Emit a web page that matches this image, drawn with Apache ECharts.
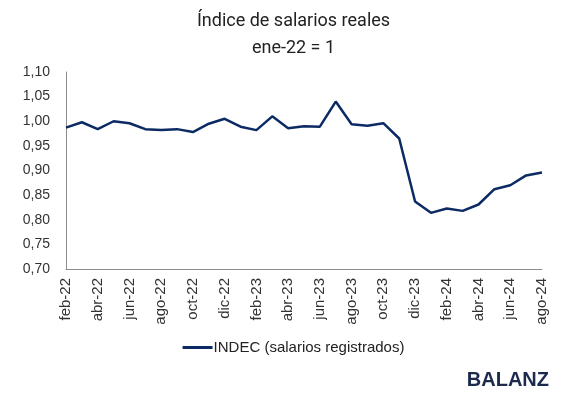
<!DOCTYPE html>
<html>
<head>
<meta charset="utf-8">
<script src="https://cdn.jsdelivr.net/npm/echarts@6/dist/echarts.min.js"></script>
<style>
  html, body { margin: 0; padding: 0; background: #fff; }
  #chart { width: 587px; height: 402px; }
</style>
</head>
<body>
<div id="chart"></div>
<script>
// meses feb-22 .. ago-24
const months = [
  'feb-22', 'mar-22', 'abr-22', 'may-22', 'jun-22', 'jul-22', 'ago-22', 'sep-22', 'oct-22', 'nov-22', 'dic-22',
  'ene-23', 'feb-23', 'mar-23', 'abr-23', 'may-23', 'jun-23', 'jul-23', 'ago-23', 'sep-23', 'oct-23', 'nov-23', 'dic-23',
  'ene-24', 'feb-24', 'mar-24', 'abr-24', 'may-24', 'jun-24', 'jul-24', 'ago-24'
];

// INDEC (salarios registrados), ene-22 = 1
const indec = [
  0.987, 0.998, 0.984, 1.000, 0.996, 0.984, 0.982, 0.984, 0.978, 0.995, 1.005,
  0.989, 0.982, 1.010, 0.986, 0.990, 0.989, 1.040, 0.994, 0.991, 0.996, 0.965, 0.837,
  0.814, 0.823, 0.818, 0.831, 0.862, 0.870, 0.890, 0.896
];

const yTicks = { min: 0.70, max: 1.10, step: 0.05 };

const chart = echarts.init(document.getElementById('chart'));
chart.setOption({
  animation: false,
  textStyle: { fontFamily: 'Liberation Sans' },
  title: {
    text: 'Índice de salarios reales\nene-22 = 1',
    left: 'center',
    top: 3,
    textStyle: {
      fontFamily: 'Roboto',
      fontSize: 18,
      fontWeight: 'normal',
      color: '#222',
      lineHeight: 27
    }
  },
  grid: { left: 66, right: 45, top: 72, bottom: 133 },
  legend: {
    bottom: 42,
    left: 'center',
    itemWidth: 30,
    itemHeight: 3,
    itemGap: 0,
    icon: 'rect',
    textStyle: { fontSize: 15, color: '#222', padding: [0, 0, 0, -4] },
    data: ['INDEC (salarios registrados)']
  },
  xAxis: {
    type: 'category',
    data: months,
    boundaryGap: false,
    axisLine: { lineStyle: { color: '#8c8c8c', width: 1 } },
    axisTick: { show: false },
    axisLabel: {
      interval: 1,
      rotate: 90,
      fontSize: 15,
      color: '#333',
      margin: 9
    }
  },
  yAxis: {
    type: 'value',
    min: yTicks.min,
    max: yTicks.max,
    interval: yTicks.step,
    axisLine: { show: true, lineStyle: { color: '#8c8c8c', width: 1 } },
    axisTick: { show: false },
    splitLine: { show: false },
    axisLabel: {
      fontSize: 14,
      color: '#333',
      margin: 16,
      formatter: v => v.toFixed(2).replace('.', ',')
    }
  },
  series: [{
    name: 'INDEC (salarios registrados)',
    type: 'line',
    data: indec,
    symbol: 'none',
    lineStyle: { color: '#0c2a63', width: 2.5 },
    itemStyle: { color: '#0c2a63' }
  }],
  graphic: [{
    type: 'text',
    right: 38,
    top: 370,
    style: {
      text: 'BALANZ',
      font: 'bold 20px "Liberation Sans"',
      fill: '#1c2b4d'
    }
  }]
});
</script>
</body>
</html>
